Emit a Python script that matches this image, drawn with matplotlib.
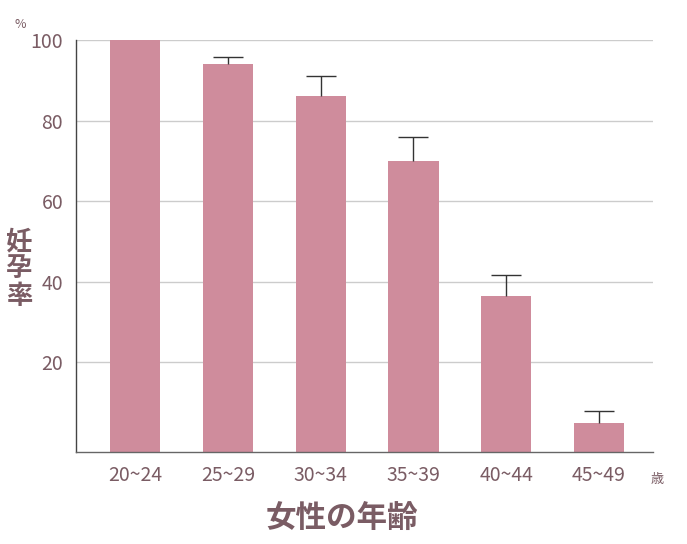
import matplotlib
matplotlib.use("Agg")
import matplotlib.pyplot as plt

plt.rcParams['font.family'] = ['Noto Sans CJK JP', 'DejaVu Sans']

categories = ["20~24", "25~29", "30~34", "35~39", "40~44", "45~49"]
rates = [100, 94, 86, 70, 36.5, 5]
err_upper = [0, 1.7, 5, 6, 5.2, 3]
yticks = [20, 40, 60, 80, 100]

bar_color = "#CF8C9C"
text_color = "#7A5C64"
y_min, y_max = -2.2, 100

fig = plt.figure(figsize=(6.87, 5.44), dpi=100)
ax = fig.add_axes([0.1111, 0.1697, 0.951 - 0.1111, 0.9265 - 0.1697])

x = list(range(len(categories)))
ax.bar(x, [r - y_min for r in rates], bottom=y_min, width=0.54,
       color=bar_color, zorder=2)
_, caps, _ = ax.errorbar(x[1:], rates[1:],
                         yerr=[[0] * (len(x) - 1), err_upper[1:]],
                         fmt="none", ecolor="#333333", elinewidth=1.0,
                         capsize=10.8, capthick=1.0, zorder=3)
caps[0].set_visible(False)

ax.set_xlim(-0.633, 5.585)
ax.set_ylim(y_min, y_max)
ax.set_yticks(yticks)
ax.set_xticks(x)
ax.set_xticklabels(categories)
ax.yaxis.grid(True, color="#CCCCCC", linewidth=1.0, zorder=0)
ax.set_axisbelow(True)

for s in ["top", "right"]:
    ax.spines[s].set_visible(False)
ax.spines["left"].set_color("#444444")
ax.spines["bottom"].set_color("#666666")
ax.spines["left"].set_linewidth(1.0)
ax.spines["bottom"].set_linewidth(1.0)

ax.tick_params(axis="y", length=0, pad=9.5, labelsize=14, labelcolor=text_color)
ax.tick_params(axis="x", length=0, pad=9.5, labelsize=14, labelcolor=text_color)

fig.text(20 / 687, 1 - 24 / 544, "%", fontsize=9, color=text_color,
         ha="center", va="center")
fig.text(657 / 687, 1 - 480 / 544, "歳", fontsize=9.5, color=text_color,
         ha="center", va="center")
fig.text(19 / 687, 1 - 269 / 544, "妊\n孕\n率", fontsize=19, color=text_color,
         ha="center", va="center", fontweight="bold", linespacing=1.0)
fig.text(341.5 / 687, 1 - 518 / 544, "女性の年齢", fontsize=22, color=text_color,
         ha="center", va="center", fontweight="bold")

fig.savefig("out.png", dpi=100)
